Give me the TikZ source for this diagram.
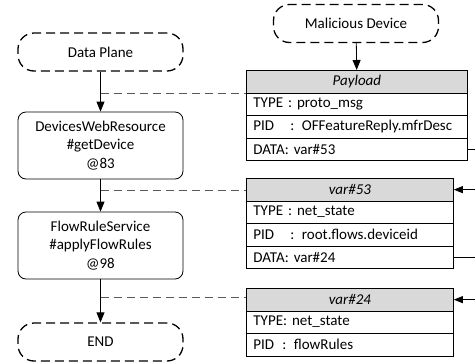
\documentclass[tikz,border=0pt]{standalone}
\usepackage{fontspec}
\setmainfont{Carlito}
\usetikzlibrary{arrows.meta}
\definecolor{hdrgray}{HTML}{D9D9D9}
\definecolor{dashgray}{HTML}{595959}
\newcommand{\mainsize}{\fontsize{15}{18.5}\selectfont}
\tikzset{
  term/.style={draw, line width=1.3pt, dash pattern=on 9pt off 5pt, rounded corners=16pt,
    minimum width=165pt, minimum height=38pt, inner sep=0pt},
  proc/.style={draw, line width=0.8pt, rounded corners=8pt, minimum width=165pt,
    minimum height=67pt, align=center, inner sep=0pt},
  hdr/.style={draw, line width=0.8pt, fill=hdrgray, anchor=north west, minimum height=22.5pt,
    inner sep=0pt, font=\mainsize\itshape},
  rowbox/.style={draw, line width=0.8pt, anchor=north west, minimum height=22.5pt,
    inner xsep=7pt, inner ysep=0pt, align=left},
  flow/.style={line width=0.8pt, -{Triangle[length=10pt,width=8pt]}},
  back/.style={line width=0.8pt, -{Triangle[length=9pt,width=7pt]}},
  link/.style={line width=0.8pt},
  dashline/.style={draw=dashgray, line width=0.9pt, dash pattern=on 8pt off 5pt}
}
\newcommand{\pidlabel}[1]{\makebox[#1][l]{PID}}
\begin{document}
\begin{tikzpicture}[x=1pt,y=-1pt, every node/.style={font=\mainsize}]
\useasboundingbox (0,0) rectangle (475,362);
% left flow
\node[term] (dp) at (100.5,52) {Data Plane};
\node[proc] (dwr) at (100.5,145.5) {DevicesWebResource\\\#getDevice\\@83};
\node[proc] (frs) at (100.5,245.5) {FlowRuleService\\\#applyFlowRules\\@98};
\node[term] (end) at (100.5,342) {END};
\draw[flow] (dp) -- (dwr);
\draw[flow] (dwr) -- (frs);
\draw[flow] (frs) -- (end);
% right
\node[term] (mal) at (356,23.5) {Malicious Device};
% Payload table
\node[hdr, minimum width=221pt] (ph) at (246,70) {Payload};
\node[rowbox, text width=207pt] (pt) at (246,92.5) {TYPE : proto\_msg};
\node[rowbox, text width=207pt] (pp) at (246,115) {\pidlabel{37pt}: OFFeatureReply.mfrDesc};
\node[rowbox, text width=207pt] (pd) at (246,137.5) {DATA: var\#53};
% var#53 table
\node[hdr, minimum width=207pt] (ah) at (246,178) {var\#53};
\node[rowbox, text width=193pt] (at) at (246,200.5) {TYPE : net\_state};
\node[rowbox, text width=193pt] (ap) at (246,223) {\pidlabel{37pt}: root.flows.deviceid};
\node[rowbox, text width=193pt] (ad) at (246,245.5) {DATA: var\#24};
% var#24 table
\node[hdr, minimum width=207pt] (bh) at (246,288) {var\#24};
\node[rowbox, text width=193pt] (bt) at (246,310.5) {TYPE: net\_state};
\node[rowbox, text width=193pt] (bp) at (246,333) {\pidlabel{29pt}: flowRules};
\draw[flow] (mal) -- (ph);
% dashed links from flow to tables
\coordinate (d1) at (100.5,93);
\coordinate (d2) at (100.5,190);
\coordinate (d3) at (100.5,297);
\draw[dashline] (d1) -- (d1 -| ph.west);
\draw[dashline] (d2) -- (d2 -| ah.west);
\draw[dashline] (d3) -- (d3 -| bh.west);
% right-hand chain links (run off the picture)
\coordinate (edge) at (477,0);
\draw[link] (pd.east) -- (pd.east -| edge);
\draw[back] (ah.east -| edge) -- (ah.east);
\draw[link] (ad.east) -- (ad.east -| edge);
\draw[back] (bh.east -| edge) -- (bh.east);
\end{tikzpicture}
\end{document}
